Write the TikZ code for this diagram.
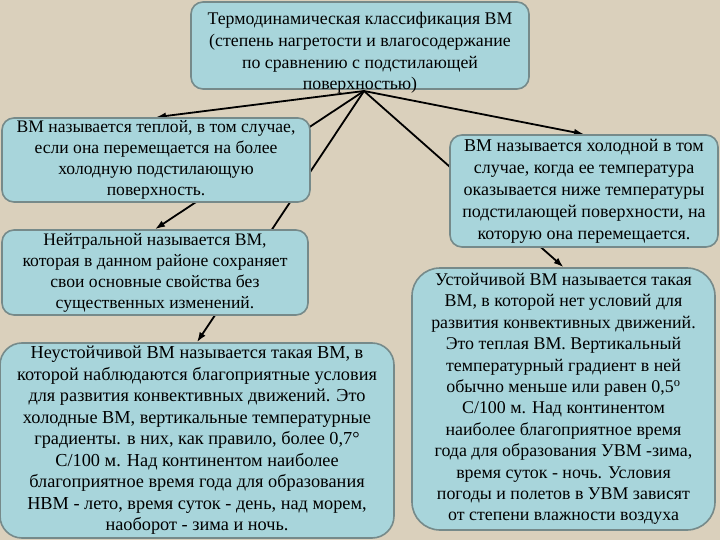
\documentclass[tikz,border=0pt]{standalone}
\usepackage{fontspec}
\setmainfont{Liberation Serif}
\usetikzlibrary{backgrounds,arrows.meta}
\definecolor{paper}{RGB}{218,208,188}
\definecolor{boxfill}{RGB}{168,213,219}
\definecolor{boxline}{RGB}{118,138,138}

\begin{document}
\begin{tikzpicture}[x=1pt,y=-1pt]
	\tikzstyle{box}=[rectangle, rounded corners=12pt, draw=boxline, line width=1.6pt, fill=boxfill, align=center, inner sep=2pt, font=\fontsize{17.6}{21}\selectfont]
	\tikzstyle{connect}=[-{Latex[length=10pt,width=7pt]}, line width=1.8pt]
	\useasboundingbox (0,0) rectangle (720,540);
	  \node[box, minimum width=338pt, minimum height=87pt] (thermo) at (360,45.5) {};
	  \node[align=center, inner sep=0pt, font=\fontsize{17.8}{21.7}\selectfont] (thermotext) at (360,53) {Термодинамическая классификация ВМ\\(степень нагретости и влагосодержание\\по сравнению с подстилающей\\поверхностью)};
	  \node[box, minimum width=308pt, minimum height=84pt] (warm) at (156,160) {ВМ называется теплой, в том случае,\\если она перемещается на более\\холодную подстилающую\\поверхность.};
	  \node[box, minimum width=306pt, minimum height=85pt] (neutral) at (155,272.5) {Нейтральной называется ВМ,\\которая в данном районе сохраняет\\свои основные свойства без\\существенных изменений.};
	  \node[box, rounded corners=22pt, minimum width=394pt, minimum height=195pt, font=\fontsize{18.3}{21.5}\selectfont] (unstable) at (197,440.5) {Неустойчивой ВМ называется такая ВМ, в\\которой наблюдаются благоприятные условия\\для развития конвективных движений. Это\\холодные ВМ, вертикальные температурные\\градиенты. в них, как правило, более 0,7°\\C/100 м. Над континентом наиболее\\благоприятное время года для образования\\НВМ - лето, время суток - день, над морем,\\наоборот - зима и ночь.};
	  \node[box, minimum width=268pt, minimum height=112pt, font=\fontsize{18}{22}\selectfont] (cold) at (584,191) {ВМ называется холодной в том\\случае, когда ее температура\\оказывается ниже температуры\\подстилающей поверхности, на\\которую она перемещается.};
	  \node[box, rounded corners=28pt, minimum width=303pt, minimum height=262pt, font=\fontsize{17.9}{21.4}\selectfont] (stable) at (563.5,399) {Устойчивой ВМ называется такая\\ВМ, в которой нет условий для\\развития конвективных движений.\\Это теплая ВМ. Вертикальный\\температурный градиент в ней\\обычно меньше или равен 0,5\textsuperscript{о}\\C/100 м. Над континентом\\наиболее благоприятное время\\года для образования УВМ -зима,\\время суток - ночь. Условия\\погоды и полетов в УВМ зависят\\от степени влажности воздуха};

	\begin{pgfonlayer}{background}
	  \fill[paper] (0,0) rectangle (720,540);
	  \coordinate (apex) at (364,91);
	  \path (apex) edge [connect] (warm.north)
			(apex) edge [connect] (neutral.north)
			(apex) edge [connect] (unstable.north)
			(apex) edge [connect] (cold.north)
			(apex) edge [connect] (stable.north);
	\end{pgfonlayer}
\end{tikzpicture}
\end{document}
